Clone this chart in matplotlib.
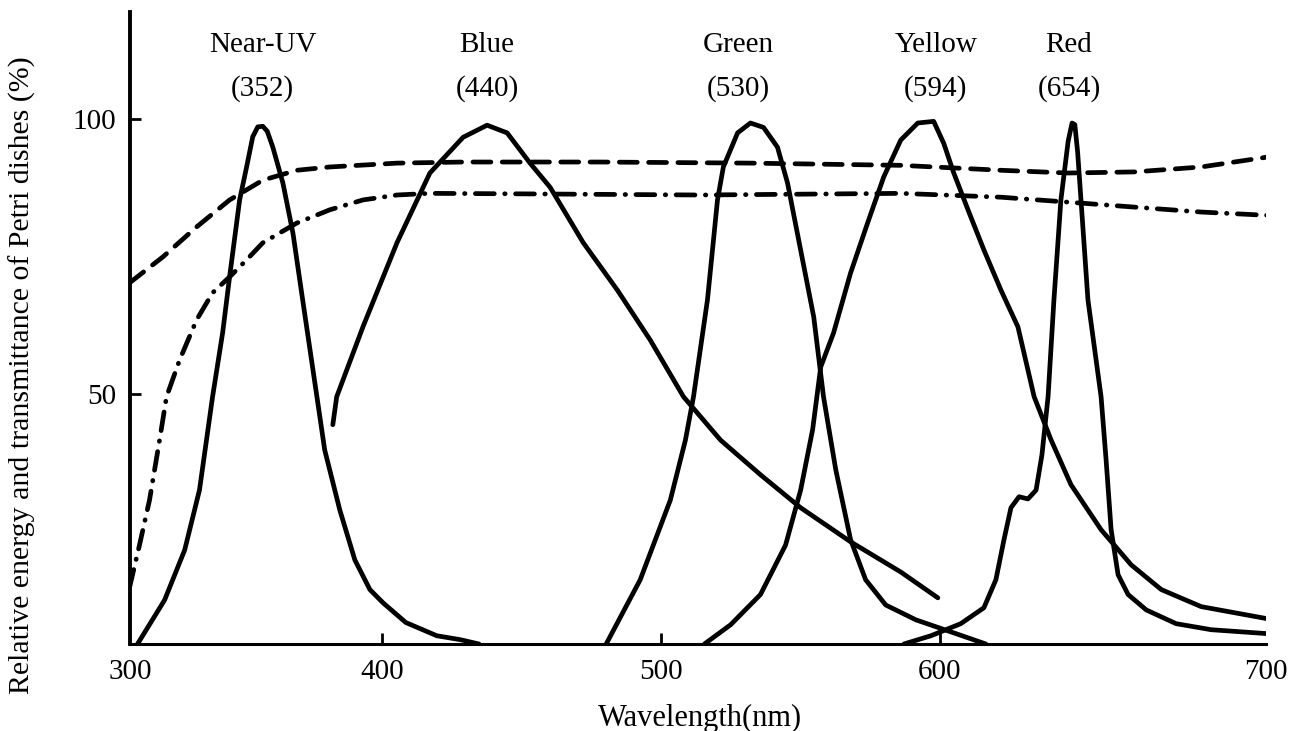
import matplotlib
matplotlib.use("Agg")
import matplotlib.pyplot as plt

# dashed: transmittance of Petri dish A
dash_x = [309.5, 321.4, 333.6, 345.4, 357.3, 369.5, 381.3, 405.4, 429.1, 478.3,
          532.1, 586.0, 621.9, 646.0, 669.7, 693.7, 717.4]
dash_y = [70.2, 74.9, 80.4, 85.3, 88.9, 90.7, 91.3, 92.0, 92.2, 92.2,
          92.0, 91.6, 90.7, 90.2, 90.4, 91.3, 93.1]

# dash-dot: transmittance of Petri dish B
dd_x = [309.5, 313.1, 316.7, 320.3, 322.8, 327.5, 333.6, 339.3, 345.4, 351.5,
        357.3, 363.4, 369.5, 381.3, 393.2, 405.4, 417.2, 453.1, 514.2, 586.0,
        621.9, 646.0, 669.7, 693.7, 717.4]
dd_y = [14.7, 22.5, 30.7, 41.6, 49.5, 56.2, 63.5, 68.4, 71.3, 74.4,
        77.5, 79.3, 81.1, 83.5, 85.3, 86.2, 86.5, 86.4, 86.2, 86.5,
        85.8, 84.9, 84.0, 83.1, 82.5]

uv_x = [312.4, 322.1, 329.3, 334.6, 339.3, 342.9, 345.4, 349.0, 351.5, 353.7,
        355.5, 357.3, 358.9, 360.9, 364.5, 368.1, 371.6, 376.7, 379.5, 384.9,
        390.3, 395.7, 400.4, 408.6, 419.7, 428.0, 434.8]
uv_y = [4.5, 12.5, 21.6, 32.5, 49.5, 61.1, 71.3, 85.3, 91.3, 96.8,
        98.6, 98.7, 97.8, 94.9, 88.4, 79.3, 67.1, 49.5, 39.8, 28.9,
        19.8, 14.4, 12.0, 8.4, 6.0, 5.3, 4.5]

blue_x = [382.4, 383.8, 393.2, 405.4, 417.2, 429.1, 437.7, 444.9, 453.1, 460.3,
          472.2, 484.4, 496.2, 508.1, 521.4, 535.7, 550.1, 568.0, 586.0, 599.3]
blue_y = [44.4, 49.5, 62.2, 77.5, 90.2, 96.7, 98.9, 97.5, 92.0, 87.6,
          77.5, 68.9, 59.8, 49.5, 41.6, 35.3, 29.3, 23.1, 17.6, 12.9]

green_x = [480.4, 492.6, 503.4, 508.8, 511.7, 516.7, 520.3, 522.4, 527.5, 532.1,
           536.8, 541.8, 545.4, 550.1, 554.8, 558.3, 562.7, 568.0, 573.4, 580.6,
           591.4, 604.0, 616.5]
green_y = [4.5, 16.2, 30.7, 41.6, 49.5, 67.1, 85.3, 91.3, 97.5, 99.3,
           98.5, 94.9, 88.4, 76.2, 64.0, 49.5, 36.2, 23.5, 16.2, 11.6,
           8.9, 6.7, 4.5]

yellow_x = [515.6, 525.0, 535.7, 544.7, 550.1, 554.4, 557.3, 561.9, 568.0, 574.1,
            579.9, 586.0, 592.1, 597.8, 601.4, 605.0, 610.1, 615.8, 621.9, 628.0,
            633.8, 639.9, 647.0, 657.8, 668.6, 679.4, 693.7, 717.4]
yellow_y = [4.5, 8.0, 13.5, 22.5, 32.5, 43.5, 54.9, 61.1, 72.0, 81.1,
            89.5, 96.2, 99.3, 99.6, 95.6, 90.2, 83.5, 76.2, 68.9, 62.2,
            49.5, 41.6, 33.5, 25.3, 18.9, 14.4, 11.3, 9.1]

red_x = [587.1, 596.8, 607.5, 615.8, 620.1, 623.0, 625.5, 628.4, 631.6, 634.5,
         636.6, 638.8, 640.9, 643.4, 646.0, 647.4, 648.4, 649.4, 650.6, 653.1,
         657.8, 659.6, 661.4, 663.9, 667.5, 674.0, 684.7, 697.3, 717.0]
red_y = [4.5, 6.0, 8.2, 11.1, 16.2, 23.5, 29.3, 31.3, 30.9, 32.5,
         38.9, 49.5, 67.1, 85.3, 96.0, 99.3, 99.0, 94.0, 85.3, 67.1,
         49.5, 38.0, 25.3, 17.1, 13.5, 10.7, 8.2, 7.1, 6.4]

peak_names = ["Near-UV", "Blue", "Green", "Yellow", "Red"]
peak_nm = ["(352)", "(440)", "(530)", "(594)", "(654)"]
peak_label_x = [357.3, 437.7, 527.8, 598.6, 646.3]

tick_pos = [309.7, 400, 500, 600, 716.9]
tick_text = ["300", "400", "500", "600", "700"]

plt.rcParams['font.family'] = ['Liberation Serif', 'DejaVu Serif']

fig = plt.figure(figsize=(13, 7.31), dpi=100)
ax = fig.add_axes([0.1, 0.119, 0.8738, 0.8646])

lw = 3.4
for xs, ys in [(uv_x, uv_y), (blue_x, blue_y), (green_x, green_y),
               (yellow_x, yellow_y), (red_x, red_y)]:
    ax.plot(xs, ys, color='black', lw=lw, solid_joinstyle='round',
            solid_capstyle='round')

ax.plot(dash_x, dash_y, color='black', lw=lw, dashes=(3.8, 2.4),
        dash_capstyle='round')
ax.plot(dd_x, dd_y, color='black', lw=lw, dashes=(4.0, 2.2, 0.1, 2.2),
        dash_capstyle='round')

for x, name, nm in zip(peak_label_x, peak_names, peak_nm):
    ax.text(x, 113.5, name, ha='center', va='center', fontsize=21)
    ax.text(x, 105.6, nm, ha='center', va='center', fontsize=21)

ax.set_xlim(309.7, 716.9)
ax.set_ylim(4.5, 119.5)
ax.set_xticks(tick_pos)
ax.set_xticklabels(tick_text)
ax.set_yticks([50, 100])
ax.set_yticklabels(["50", "100"])
ax.tick_params(axis='both', direction='in', length=8, width=2,
               labelsize=21)
ax.tick_params(axis='x', pad=11)
ax.tick_params(axis='y', pad=10)
xt = ax.xaxis.get_major_ticks()
xt[0].tick1line.set_visible(False)
xt[-1].tick1line.set_visible(False)

for s in ['top', 'right']:
    ax.spines[s].set_visible(False)
ax.spines['left'].set_linewidth(2.8)
ax.spines['bottom'].set_linewidth(2.2)

fig.text(700 / 1300, 1 - 718 / 731, "Wavelength(nm)", ha='center',
         va='center', fontsize=22)
fig.text(22 / 1300, 1 - 375 / 731,
         "Relative energy and transmittance of Petri dishes (%)",
         rotation=90, ha='center', va='center', fontsize=21.5)

fig.savefig('out.png', dpi=100)
